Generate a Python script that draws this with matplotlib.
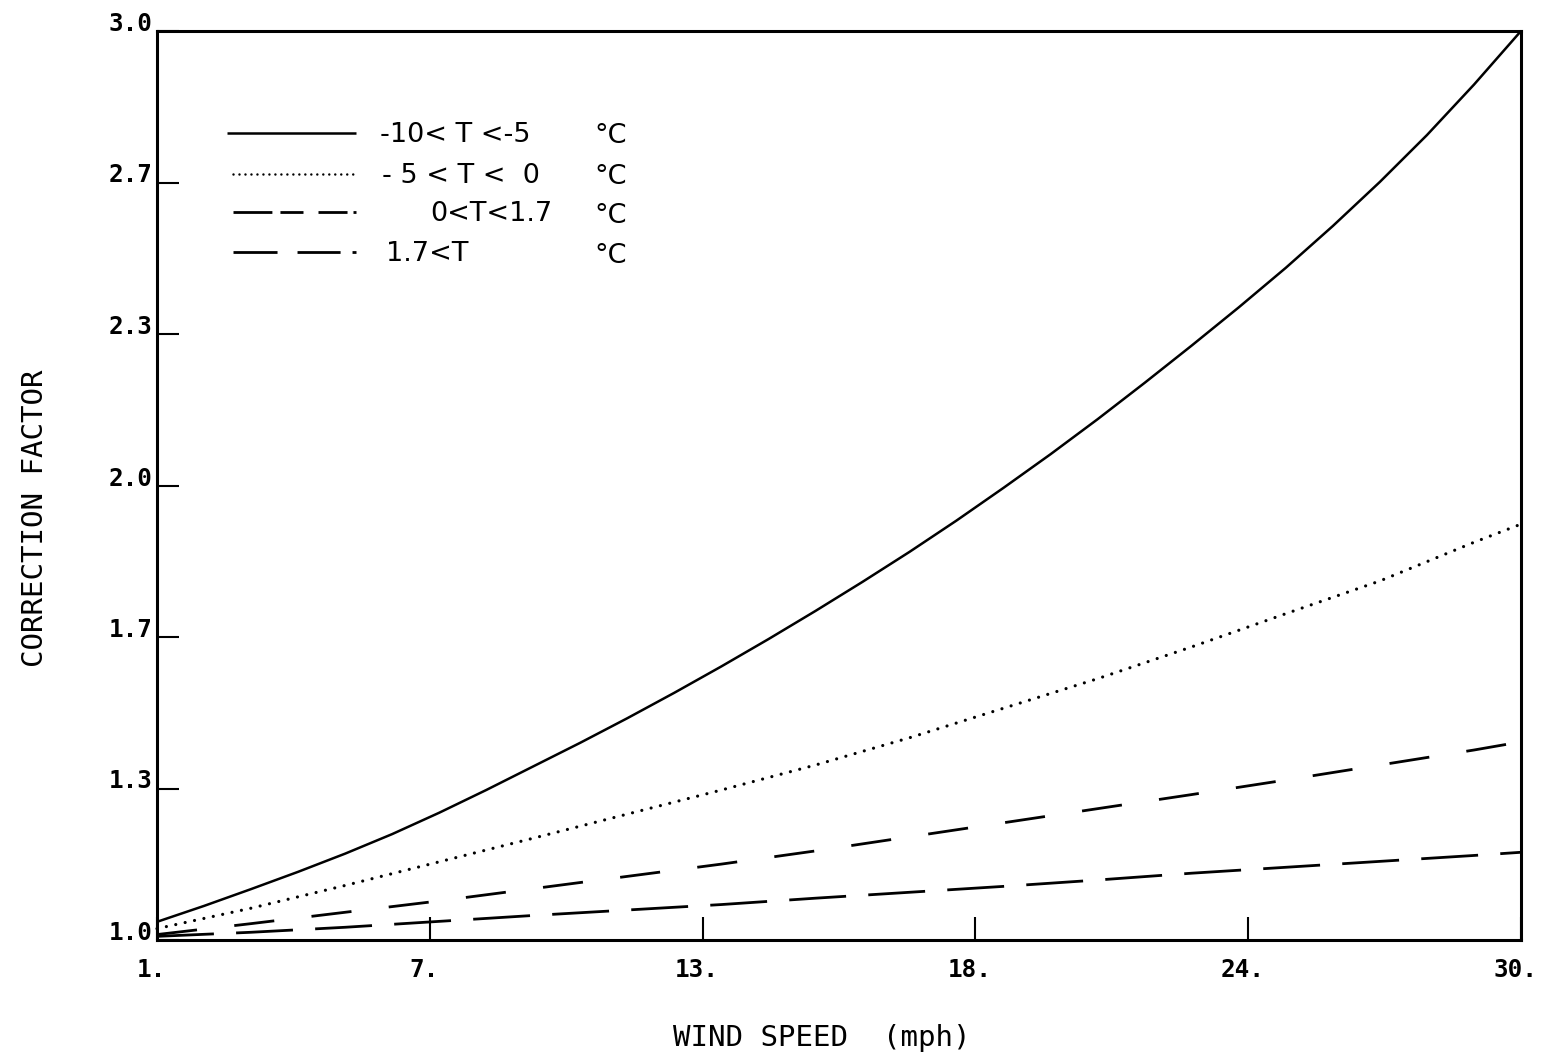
import matplotlib

matplotlib.use("Agg")
import matplotlib.pyplot as plt
import matplotlib.transforms as mtransforms
from matplotlib.lines import Line2D

# Values.
# the -10..-5 curve bends the most, so it is read at every mph
WIND_FINE = list(range(1, 31))
CF_M10_M5 = [1.040, 1.075, 1.112, 1.150, 1.190, 1.233, 1.280, 1.330, 1.382, 1.434,
             1.488, 1.544, 1.602, 1.662, 1.724, 1.788, 1.854, 1.923, 1.995, 2.069,
             2.146, 2.226, 2.308, 2.392, 2.479, 2.571, 2.668, 2.771, 2.882, 3.000]

WIND = [1, 3, 5, 7, 9, 11, 13, 15, 17, 19, 21, 23, 25, 27, 29, 30]
CF_M5_0 = [1.025, 1.070, 1.120, 1.172, 1.224, 1.277, 1.330, 1.385,
           1.445, 1.510, 1.575, 1.645, 1.718, 1.790, 1.875, 1.915]
CF_0_17 = [1.012, 1.036, 1.061, 1.086, 1.113, 1.140, 1.167, 1.196,
           1.227, 1.258, 1.289, 1.320, 1.352, 1.385, 1.418, 1.436]
CF_17 = [1.008, 1.017, 1.028, 1.041, 1.054, 1.066, 1.078, 1.092,
         1.105, 1.118, 1.132, 1.147, 1.160, 1.173, 1.186, 1.193]

XTICKS = [1.0, 6.8, 12.6, 18.4, 24.2, 30.0]
XTICK_LABELS = ["1.", "7.", "13.", "18.", "24.", "30."]
YTICKS = [1.0, 4 / 3, 5 / 3, 2.0, 7 / 3, 8 / 3, 3.0]
YTICK_LABELS = ["1.0", "1.3", "1.7", "2.0", "2.3", "2.7", "3.0"]

LEGEND_LEFT = ["-10< T <-5", "- 5 < T <  0", "0<T<1.7", "1.7<T"]

plt.rcParams["lines.scale_dashes"] = False

INK = "black"
TICK_FONT = dict(family="DejaVu Sans Mono", weight="bold", size=17.5)
LABEL_FONT = dict(family="DejaVu Sans Mono", size=21)
LEG_FONT = dict(family="DejaVu Sans", size=19.5)

STYLES = [
    dict(ls="-", lw=1.8),
    dict(ls=(0, (0.01, 6.9)), lw=2.3, dash_capstyle="round"),
    dict(ls=(0, (29, 27)), lw=2.0),
    dict(ls=(0, (41, 16)), lw=2.0),
]
# the plotter draws the legend swatches with their own dash runs
LEG_STYLES = [
    STYLES[0],
    dict(ls=(0, (0.01, 4.3)), lw=1.8, dash_capstyle="round"),
    dict(ls=(0, (28, 5.8, 16.6, 10.8, 20.9, 4.3, 2.9, 100)), lw=2.0),
    dict(ls=(0, (31.7, 14.4, 31, 8.6, 2.9, 100)), lw=2.0),
]

fig = plt.figure(figsize=(15.41, 10.60), dpi=100)
ax = fig.add_axes([157 / 1541, 120 / 1060, 1364 / 1541, 909 / 1060])

ax.plot(WIND_FINE, CF_M10_M5, color=INK, solid_capstyle="butt", clip_on=False, **STYLES[0])
for ys, st in zip([CF_M5_0, CF_0_17, CF_17], STYLES[1:]):
    ax.plot(WIND, ys, color=INK, solid_capstyle="butt", clip_on=False, **st)

ax.set_xlim(1, 30)
ax.set_ylim(1, 3)

ax.set_xticks(XTICKS)
ax.set_xticklabels(XTICK_LABELS, **TICK_FONT)
ax.set_yticks(YTICKS)
ax.set_yticklabels(YTICK_LABELS, **TICK_FONT)
ax.tick_params(axis="x", direction="in", length=16.5, width=1.5, pad=13, colors=INK)
ax.tick_params(axis="y", direction="in", length=15.5, width=1.5, pad=3.5, colors=INK)
shift = mtransforms.ScaledTranslation(-6 / 100, 0, fig.dpi_scale_trans)
for lab in ax.get_xticklabels():
    lab.set_transform(lab.get_transform() + shift)
for lab in ax.get_yticklabels():
    lab.set_va("baseline")

for spine in ax.spines.values():
    spine.set_linewidth(2.2)
    spine.set_color(INK)

ax.set_xlabel("WIND SPEED  (mph)", **LABEL_FONT)
ax.xaxis.set_label_coords(0.487, -0.108)
ax.xaxis.label.set_va("center")
ax.set_ylabel("CORRECTION FACTOR", **LABEL_FONT)
ax.yaxis.set_label_coords(-0.0894, 0.464)
ax.yaxis.label.set_va("center")

# hand-placed legend, as on the original plot
rows = [0.888, 0.843, 0.801, 0.757]
for i, (st, txt) in enumerate(zip(LEG_STYLES, LEGEND_LEFT)):
    x0 = 0.0513 if i == 0 else 0.0557
    ax.add_line(Line2D([x0, 0.146], [rows[i], rows[i]], transform=ax.transAxes,
                       color=INK, solid_capstyle="butt", **st))
    tx = [0.1635, 0.165, 0.200, 0.168][i]
    ax.text(tx, rows[i] - 0.002, txt, transform=ax.transAxes, va="center",
            ha="left", color=INK, **LEG_FONT)
    ax.text(0.321, rows[i] - 0.004, "°C", transform=ax.transAxes, va="center",
            ha="left", color=INK, **LEG_FONT)

fig.savefig("out.png", dpi=100, facecolor="white")
